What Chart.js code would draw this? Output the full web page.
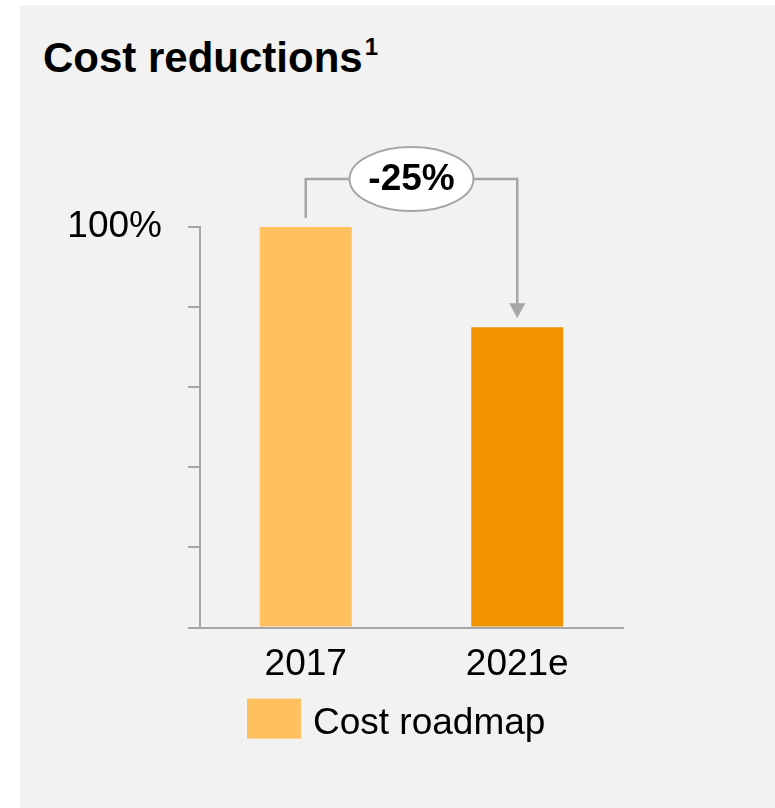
<!DOCTYPE html>
<html>
<head>
<meta charset="utf-8">
<title>Cost reductions</title>
<script src="https://cdn.jsdelivr.net/npm/chart.js@4.4.0/dist/chart.umd.min.js"></script>
<style>
  html, body { margin: 0; padding: 0; background: #fff; }
  #wrap { position: relative; width: 775px; height: 808px; overflow: hidden; }
  #panel { position: absolute; left: 20px; top: 5px; right: 0; bottom: 0; background: #f2f2f2; }
  #title { position: absolute; left: 43px; top: 37px; font: bold 42px "Liberation Sans", Arial, sans-serif; line-height: 42px; color: #000; white-space: nowrap; }
  #title sup { font-size: 24px; vertical-align: baseline; position: relative; top: -17px; margin-left: 2px; }
  #chartBox { position: absolute; left: 0; top: 0; width: 775px; height: 808px; }
</style>
</head>
<body>
<div id="wrap">
  <div id="panel"></div>
  <div id="title">Cost reductions<sup>1</sup></div>
  <div id="chartBox"><canvas id="costChart"></canvas></div>
</div>
<script>
// data
const years = ['2017', '2021e'];
const costIndex = [100, 75];
const barColors = ['#FFC060', '#F29400'];
const seriesName = 'Cost roadmap';
const yTicks = [0, 20, 40, 60, 80, 100];
const yLabelled = [100];

const axisGrey = '#a6a6a6';
const fontFamily = '"Liberation Sans", Arial, sans-serif';

Chart.defaults.font.family = fontFamily;
Chart.defaults.color = '#000';

// bracket + arrow with the percentage change in an ellipse
const changeArrow = {
    id: 'changeArrow',
    afterDatasetsDraw(chart) {
        const ctx = chart.ctx;
        const bars = chart.getDatasetMeta(0).data;
        const a = bars[0], b = bars[1];
        const lineY = chart.chartArea.top - 48;
        const midX = (a.x + b.x) / 2;
        const rx = 62, ry = 32;
        const pct = Math.round((costIndex[1] - costIndex[0]) / costIndex[0] * 100);

        ctx.save();
        ctx.strokeStyle = axisGrey;
        ctx.lineWidth = 2.5;
        ctx.beginPath();
        ctx.moveTo(a.x, a.y - 9);
        ctx.lineTo(a.x, lineY);
        ctx.lineTo(midX - rx, lineY);
        ctx.moveTo(midX + rx, lineY);
        ctx.lineTo(b.x, lineY);
        ctx.lineTo(b.x, b.y - 22);
        ctx.stroke();

        ctx.fillStyle = axisGrey;
        ctx.beginPath();
        ctx.moveTo(b.x - 8, b.y - 24);
        ctx.lineTo(b.x + 8, b.y - 24);
        ctx.lineTo(b.x, b.y - 9);
        ctx.closePath();
        ctx.fill();

        ctx.beginPath();
        ctx.ellipse(midX, lineY, rx, ry, 0, 0, Math.PI * 2);
        ctx.fillStyle = '#fff';
        ctx.fill();
        ctx.lineWidth = 2;
        ctx.stroke();

        ctx.fillStyle = '#000';
        ctx.font = 'bold 37px ' + fontFamily;
        ctx.textAlign = 'center';
        ctx.textBaseline = 'middle';
        ctx.fillText(pct + '%', midX, lineY + 1);
        ctx.restore();
    }
};

// single legend entry below the axis
const boxLegend = {
    id: 'boxLegend',
    afterDraw(chart) {
        const ctx = chart.ctx;
        const ds = chart.data.datasets[0];
        const x = chart.chartArea.left + 47;
        const y = chart.chartArea.bottom + 71;
        ctx.save();
        ctx.fillStyle = ds.backgroundColor[0];
        ctx.fillRect(x, y, 54, 40);
        ctx.fillStyle = '#000';
        ctx.font = '37px ' + fontFamily;
        ctx.textAlign = 'left';
        ctx.textBaseline = 'alphabetic';
        ctx.fillText(ds.label, x + 66, y + 35);
        ctx.restore();
    }
};

new Chart(document.getElementById('costChart'), {
    type: 'bar',
    data: {
        labels: years,
        datasets: [{
            label: seriesName,
            data: costIndex,
            backgroundColor: barColors,
            borderWidth: 0,
            barPercentage: 0.435,
            categoryPercentage: 1
        }]
    },
    options: {
        responsive: true,
        maintainAspectRatio: false,
        animation: false,
        layout: {
            padding: { top: 227, right: 152, bottom: 114, left: 0 }
        },
        plugins: {
            legend: { display: false },
            tooltip: { enabled: false }
        },
        scales: {
            x: {
                grid: { display: false },
                border: { display: true, color: axisGrey, width: 2 },
                ticks: { font: { size: 37 }, padding: 7, color: '#000' }
            },
            y: {
                min: 0,
                max: 100,
                afterBuildTicks(scale) {
                    scale.ticks = yTicks.map(v => ({ value: v }));
                },
                afterFit(scale) {
                    scale.width = 200;
                },
                grid: {
                    drawOnChartArea: false,
                    drawTicks: true,
                    tickLength: 12,
                    color: axisGrey,
                    lineWidth: 2
                },
                border: { display: true, color: axisGrey, width: 2 },
                ticks: {
                    font: { size: 37 },
                    padding: 26,
                    color: '#000',
                    callback: v => yLabelled.includes(v) ? v + '%' : ''
                }
            }
        }
    },
    plugins: [changeArrow, boxLegend]
});
</script>
</body>
</html>
